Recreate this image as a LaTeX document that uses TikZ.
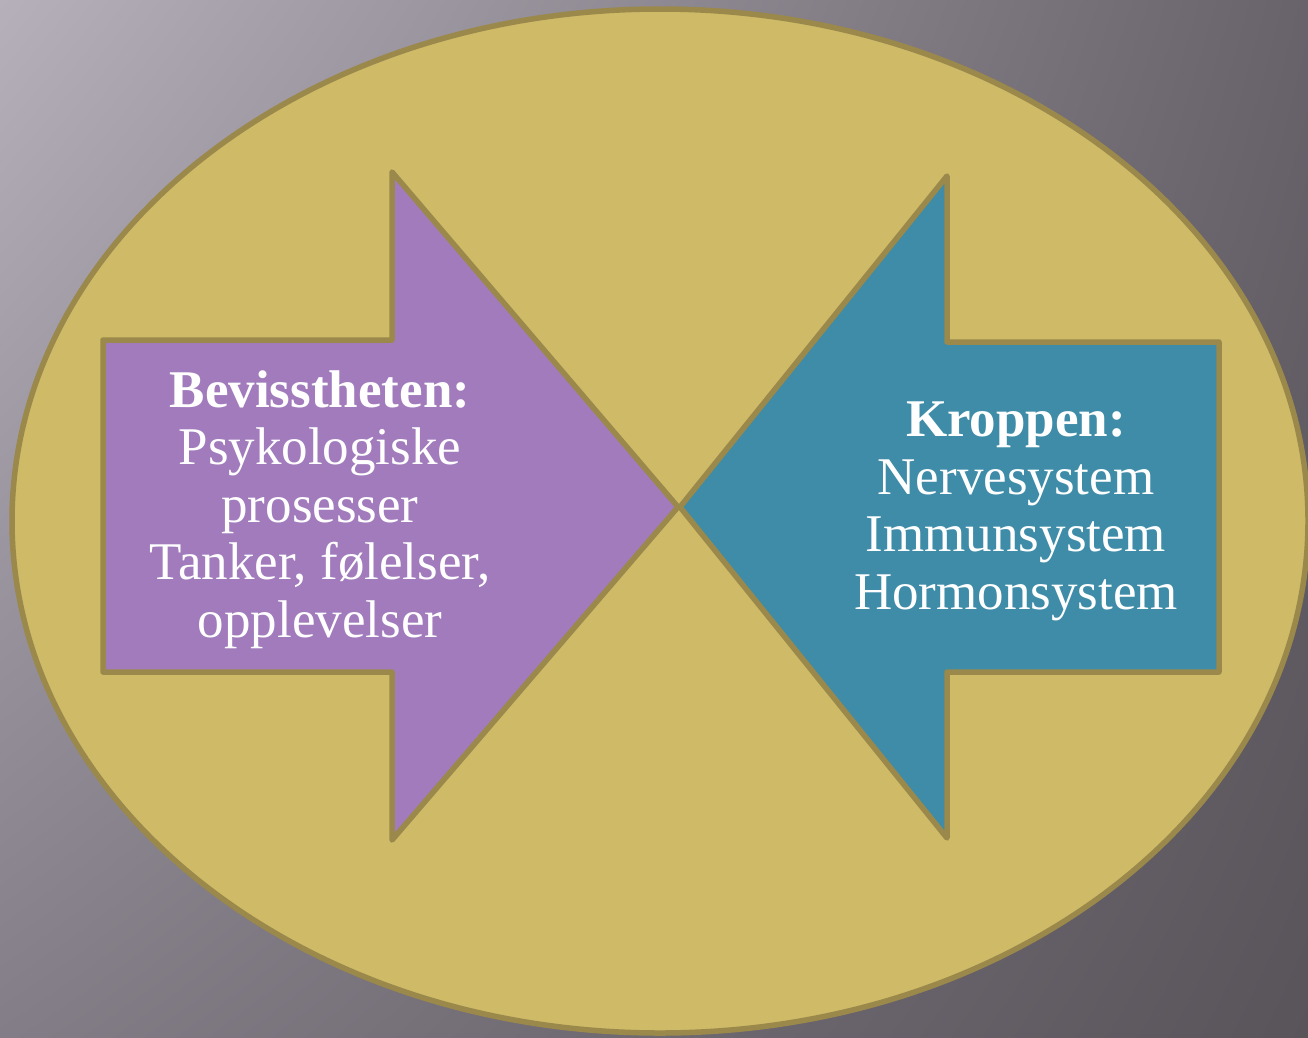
\documentclass[tikz,border=0pt]{standalone}
\usepackage{fontspec}
\setmainfont{Liberation Serif}
\usetikzlibrary{shadings}
\definecolor{bgUL}{HTML}{B6B0BB}
\definecolor{bgUR}{HTML}{68626A}
\definecolor{bgLL}{HTML}{837D87}
\definecolor{bgLR}{HTML}{59545A}
\definecolor{ovalfill}{HTML}{CFBA68}
\definecolor{edge}{HTML}{9A894A}
\definecolor{purplearrow}{HTML}{A27BBC}
\definecolor{tealarrow}{HTML}{3E8CA8}
\tikzset{
  outline/.style={draw=edge, line width=5.5pt, line join=round},
  label/.style={text=white, align=center, font=\fontsize{53}{57.5}\selectfont, inner sep=0pt}
}
\begin{document}
\begin{tikzpicture}[x=1pt, y=-1pt]
\useasboundingbox (0,0) rectangle (1308,1037);
\shade[upper left=bgUL, upper right=bgUR, lower left=bgLL, lower right=bgLR] (0,0) rectangle (1308,1037);
\filldraw[outline, fill=ovalfill] (660,521) ellipse [x radius=648, y radius=512];
% left arrow
\filldraw[outline, fill=purplearrow]
  (103,340) -- (392,340) -- (392,172) -- (678,507) -- (392,840) -- (392,672) -- (103,672) -- cycle;
% right arrow
\filldraw[outline, fill=tealarrow]
  (1219,342) -- (947,342) -- (947,176) -- (680,507) -- (947,838) -- (947,672) -- (1219,672) -- cycle;
\node[label, anchor=base] (lt) at (320,637) {\textbf{Bevisstheten:}\\Psykologiske\\prosesser\\Tanker, følelser,\\opplevelser};
\node[label, anchor=base] (rt) at (1016,609) {\textbf{Kroppen:}\\Nervesystem\\Immunsystem\\Hormonsystem};
\end{tikzpicture}
\end{document}
